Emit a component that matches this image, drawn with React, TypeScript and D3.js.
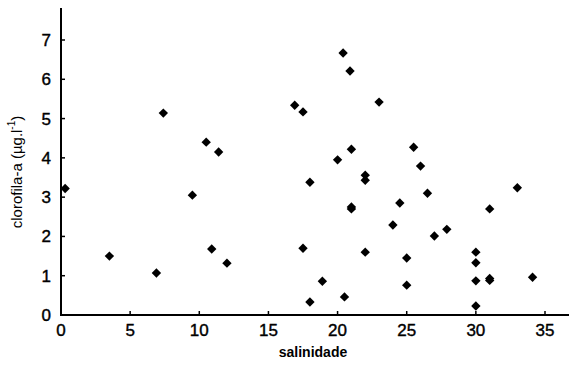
import { useRef, useEffect } from 'react'
import * as d3 from 'd3'

const W = 570
const H = 374

// salinidade vs clorofila-a
const SALINITY = [
  0.3, 3.5, 6.9, 7.4, 9.5, 10.5, 11.4, 10.9, 12.0, 16.9, 17.5, 17.5, 18.0, 18.0, 18.9,
  20.0, 20.4, 20.9, 20.5, 21.0, 21.0, 21.0, 22.0, 22.0, 22.0, 23.0, 25.5, 26.0, 26.5,
  24.5, 24.0, 27.0, 27.9, 25.0, 25.0, 30.0, 30.0, 30.0, 30.0, 31.0, 31.0, 31.0, 33.0, 34.1,
]
const CHLOROPHYLL = [
  3.22, 1.5, 1.07, 5.14, 3.05, 4.4, 4.15, 1.68, 1.32, 5.34, 5.17, 1.7, 3.38, 0.33, 0.86,
  3.95, 6.67, 6.21, 0.46, 4.22, 2.75, 2.7, 3.56, 3.43, 1.6, 5.42, 4.27, 3.79, 3.1,
  2.85, 2.29, 2.01, 2.18, 1.45, 0.76, 1.6, 1.33, 0.87, 0.23, 0.93, 0.88, 2.7, 3.24, 0.96,
]
const X_TICKS = [0, 5, 10, 15, 20, 25, 30, 35]
const Y_TICKS = [0, 1, 2, 3, 4, 5, 6, 7]

export default function App() {
  const svgRef = useRef<SVGSVGElement>(null)

  useEffect(() => {
    if (!svgRef.current) return
    const svg = d3.select(svgRef.current)
    svg.selectAll('*').remove()

    const x = d3.scaleLinear().domain([0, 35]).range([61, 545])
    const y = d3.scaleLinear().domain([0, 7]).range([315, 40])
    const font = 'Arial, "Liberation Sans", sans-serif'

    // axes lines
    svg.append('line')
      .attr('x1', x(0)).attr('x2', 569).attr('y1', y(0)).attr('y2', y(0))
      .attr('stroke', '#000').attr('stroke-width', 2)
    svg.append('line')
      .attr('x1', x(0)).attr('x2', x(0)).attr('y1', y(0) + 1).attr('y2', 8)
      .attr('stroke', '#000').attr('stroke-width', 2)

    // y ticks + labels
    const yt = svg.append('g')
    yt.selectAll('line').data(Y_TICKS).join('line')
      .attr('x1', x(0)).attr('x2', x(0) + 4)
      .attr('y1', d => y(d)).attr('y2', d => y(d))
      .attr('stroke', '#000').attr('stroke-width', 1.5)
    yt.selectAll('text').data(Y_TICKS).join('text')
      .attr('x', 51).attr('y', d => y(d) + 6)
      .attr('text-anchor', 'end')
      .attr('font-family', font).attr('font-size', 17)
      .attr('stroke', '#000').attr('stroke-width', 0.4)
      .text(d => d)

    // x ticks + labels
    const xt = svg.append('g')
    xt.selectAll('line').data(X_TICKS).join('line')
      .attr('x1', d => x(d)).attr('x2', d => x(d))
      .attr('y1', y(0)).attr('y2', y(0) - 4)
      .attr('stroke', '#000').attr('stroke-width', 1.5)
    xt.selectAll('text').data(X_TICKS).join('text')
      .attr('x', d => x(d)).attr('y', 336)
      .attr('text-anchor', 'middle')
      .attr('font-family', font).attr('font-size', 17)
      .attr('stroke', '#000').attr('stroke-width', 0.4)
      .text(d => d)

    // axis titles
    svg.append('text')
      .attr('x', 313).attr('y', 357)
      .attr('text-anchor', 'middle')
      .attr('font-family', font).attr('font-size', 14).attr('font-weight', 'bold')
      .text('salinidade')

    const yl = svg.append('text')
      .attr('transform', 'translate(22,172) rotate(-90)')
      .attr('text-anchor', 'middle')
      .attr('font-family', font).attr('font-size', 15)
    yl.append('tspan').text('clorofila-a (µg.l')
    yl.append('tspan').attr('font-size', 10).attr('dy', -7).text('-1')
    yl.append('tspan').attr('dy', 7).text(')')

    // points
    const pts = SALINITY.map((s, i) => [s, CHLOROPHYLL[i]])
    const diamond = d3.symbol().type(d3.symbolDiamond2).size(56)
    svg.append('g').selectAll('path').data(pts).join('path')
      .attr('transform', d => `translate(${x(d[0])},${y(d[1])})`)
      .attr('d', diamond() as string)
      .attr('fill', '#000')
  }, [])

  return (
    <svg
      ref={svgRef}
      width={W}
      height={H}
      style={{ position: 'absolute', left: 0, top: 0, background: '#fff' }}
    />
  )
}
